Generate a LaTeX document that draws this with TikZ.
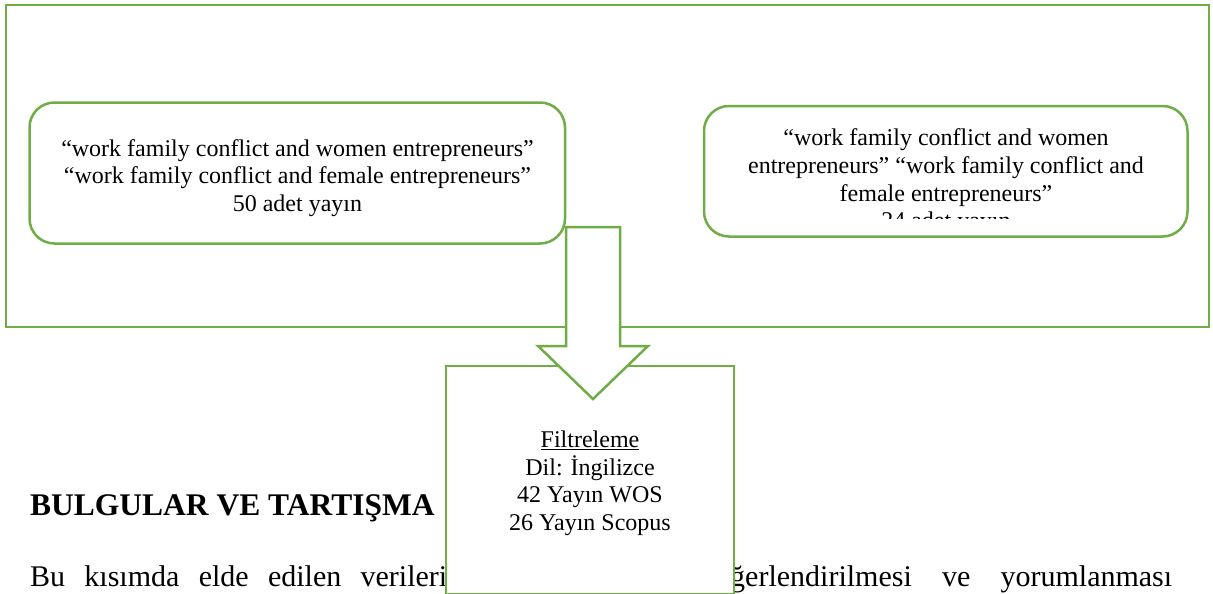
\documentclass[tikz,border=0pt]{standalone}
\usepackage{fontspec}
\setmainfont{Liberation Serif}
\definecolor{leaf}{HTML}{70AD47}
\begin{document}
\begin{tikzpicture}[x=1pt,y=-1pt,
  frame/.style={draw=leaf, line width=2.5pt},
  roundbox/.style={frame, fill=white, rounded corners=25pt, inner sep=0pt},
  plainbox/.style={frame, fill=white, inner sep=0pt},
  boxtext/.style={font=\fontsize{24}{27.7}\selectfont, align=center, inner sep=0pt},
  bodytext/.style={font=\fontsize{30}{36}\selectfont, inner sep=0pt, anchor=base west},
  headtext/.style={font=\fontsize{31.5}{38}\selectfont\bfseries, inner sep=0pt, anchor=base west}]
\useasboundingbox (0,0) rectangle (1213,594);
\fill[white] (0,0) rectangle (1213,594);

% outer frame of the search stage
\draw[frame] (6,5) rectangle (1209,327);

% the two search result boxes
\node[roundbox, minimum width=535.5pt, minimum height=141pt] (wosbox) at (297.25,173) {};
\node[boxtext] (wostext) at (297.5,178)
  {“work family conflict and women entrepreneurs”\\
   “work family conflict and female entrepreneurs”\\
   50 adet yayın};

\node[roundbox, minimum width=483.5pt, minimum height=130.5pt] (scbox) at (945.75,171.25) {};
\begin{scope}
  \clip (704,106) rectangle (1188,218);
  \node[boxtext] (sctext) at (946,181.5)
    {“work family conflict and women\\
     entrepreneurs” “work family conflict and\\
     female entrepreneurs”\\
     24 adet yayın};
\end{scope}

% page text running under the filter box
\node[headtext] (heading) at (30,515) {BULGULAR VE TARTIŞMA};
\node[bodytext] (bodyleft) at (30,586)
  {\makebox[417pt][s]{Bu kısımda elde edilen verileri}};
\node[bodytext] (bodyright) at (730,586)
  {\makebox[442pt][s]{ğerlendirilmesi ve yorumlanması}};

% filter box
\draw[plainbox] (446,366) -- (734,366) -- (734,594) -- (446,594) -- cycle;
\coordinate (filtertop) at (590,366);
\node[boxtext] (filtertext) at (590,483.4)
  {\underline{Filtreleme}\\
   Dil: İngilizce\\
   42 Yayın WOS\\
   26 Yayın Scopus};

% block arrow from the search stage down to the filter
\coordinate (arrowtail) at (593,227);
\coordinate (arrowtip) at (593,399);
\draw[frame, fill=white, line join=miter]
  ([xshift=-27pt]arrowtail) -- ([xshift=27pt]arrowtail)
  -- (620,346) -- (648,346) -- (arrowtip) -- (538,346) -- (566,346) -- cycle;
\end{tikzpicture}
\end{document}
